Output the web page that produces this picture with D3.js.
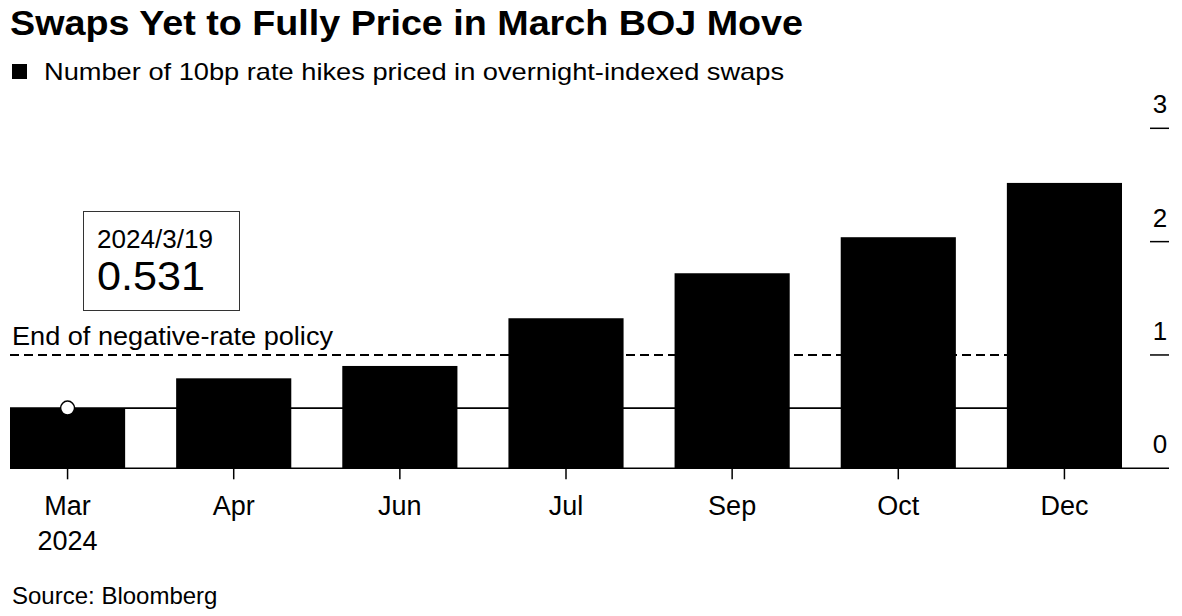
<!DOCTYPE html>
<html>
<head>
<meta charset="utf-8">
<script src="https://cdn.jsdelivr.net/npm/d3@7"></script>
<style>
  html, body { margin: 0; padding: 0; background: #fff; }
  svg { display: block; font-family: "Liberation Sans", Arial, sans-serif; }
</style>
</head>
<body>
<svg id="chart" width="1182" height="616"></svg>
<script>
const categories = ["Mar", "Apr", "Jun", "Jul", "Sep", "Oct", "Dec"];
const subLabels = ["2024", "", "", "", "", "", ""];
const hikes = [0.531, 0.794, 0.903, 1.324, 1.721, 2.039, 2.518];
const yTicks = [0, 1, 2, 3];
const policyLevel = [1];
const annotationDate = "2024/3/19";
const annotationValue = 0.531;

const svg = d3.select("#chart");

const x = d3.scaleBand().domain(categories).range([10, 1122]).paddingInner(0.307).paddingOuter(0);
const y = d3.scaleLinear().domain([0, 3]).range([468.3, 128.3]);

// Title
svg.append("text").attr("x", 10).attr("y", 35)
  .attr("font-size", 35).attr("font-weight", "bold").attr("fill", "#000")
  .attr("textLength", 793).attr("lengthAdjust", "spacingAndGlyphs")
  .text("Swaps Yet to Fully Price in March BOJ Move");

// Legend
svg.append("rect").attr("x", 12).attr("y", 64).attr("width", 15).attr("height", 15).attr("fill", "#000");
svg.append("text").attr("x", 44).attr("y", 80)
  .attr("font-size", 24).attr("fill", "#000")
  .attr("textLength", 740).attr("lengthAdjust", "spacingAndGlyphs")
  .text("Number of 10bp rate hikes priced in overnight-indexed swaps");

// Current level line (behind bars)
svg.append("line")
  .attr("x1", 10).attr("x2", 1122)
  .attr("y1", y(annotationValue)).attr("y2", y(annotationValue))
  .attr("stroke", "#000").attr("stroke-width", 1.6);

// Bars
svg.append("g").selectAll("rect").data(categories).join("rect")
  .attr("x", d => x(d))
  .attr("width", x.bandwidth())
  .attr("y", (d, i) => y(hikes[i]))
  .attr("height", (d, i) => y(0) - y(hikes[i]))
  .attr("fill", "#000");

// Policy dashed line
svg.append("g").selectAll("line").data(policyLevel).join("line")
  .attr("x1", 10).attr("x2", 1122)
  .attr("y1", d => y(d)).attr("y2", d => y(d))
  .attr("stroke", "#000").attr("stroke-width", 2)
  .attr("stroke-dasharray", "9,5");

svg.append("text").attr("x", 12).attr("y", 345)
  .attr("font-size", 26).attr("fill", "#000")
  .attr("textLength", 321).attr("lengthAdjust", "spacingAndGlyphs")
  .text("End of negative-rate policy");

// Baseline
svg.append("line").attr("x1", 10).attr("x2", 1169)
  .attr("y1", y(0)).attr("y2", y(0))
  .attr("stroke", "#000").attr("stroke-width", 1.6);

// X axis
const xAxis = d3.axisBottom(x).tickSize(11).tickPadding(0).tickFormat("");
const gx = svg.append("g").attr("transform", `translate(0,${y(0)})`).call(xAxis);
gx.select(".domain").remove();
gx.selectAll(".tick line").attr("stroke", "#000").attr("stroke-width", 1.5);

svg.append("g").selectAll("text").data(categories).join("text")
  .attr("x", d => x(d) + x.bandwidth() / 2)
  .attr("y", 515)
  .attr("text-anchor", "middle")
  .attr("font-size", 27).attr("fill", "#000")
  .text(d => d);
svg.append("g").selectAll("text").data(categories).join("text")
  .attr("x", d => x(d) + x.bandwidth() / 2)
  .attr("y", 550)
  .attr("text-anchor", "middle")
  .attr("font-size", 27).attr("fill", "#000")
  .text((d, i) => subLabels[i]);

// Y axis (right)
const gy = svg.append("g");
gy.selectAll("line").data(yTicks.filter(t => t > 0)).join("line")
  .attr("x1", 1150).attr("x2", 1169)
  .attr("y1", d => y(d)).attr("y2", d => y(d))
  .attr("stroke", "#000").attr("stroke-width", 1.5);
gy.selectAll("text").data(yTicks).join("text")
  .attr("x", 1160)
  .attr("y", d => y(d) - 15)
  .attr("text-anchor", "middle")
  .attr("font-size", 26).attr("fill", "#000")
  .text(d => d3.format("d")(d));

// Marker
svg.append("circle")
  .attr("cx", x("Mar") + x.bandwidth() / 2)
  .attr("cy", y(annotationValue))
  .attr("r", 7)
  .attr("fill", "#fff").attr("stroke", "#000").attr("stroke-width", 1.5);

// Annotation box
svg.append("rect").attr("x", 83.5).attr("y", 211.5).attr("width", 156).attr("height", 99)
  .attr("fill", "#fff").attr("stroke", "#333").attr("stroke-width", 1);
svg.append("text").attr("x", 97).attr("y", 248)
  .attr("font-size", 26).attr("fill", "#000")
  .attr("textLength", 116).attr("lengthAdjust", "spacingAndGlyphs")
  .text(annotationDate);
svg.append("text").attr("x", 97).attr("y", 290)
  .attr("font-size", 40).attr("fill", "#000")
  .attr("textLength", 108).attr("lengthAdjust", "spacingAndGlyphs")
  .text(d3.format(".3f")(annotationValue));

// Source
svg.append("text").attr("x", 12).attr("y", 604)
  .attr("font-size", 24).attr("fill", "#000").text("Source: Bloomberg");
</script>
</body>
</html>
